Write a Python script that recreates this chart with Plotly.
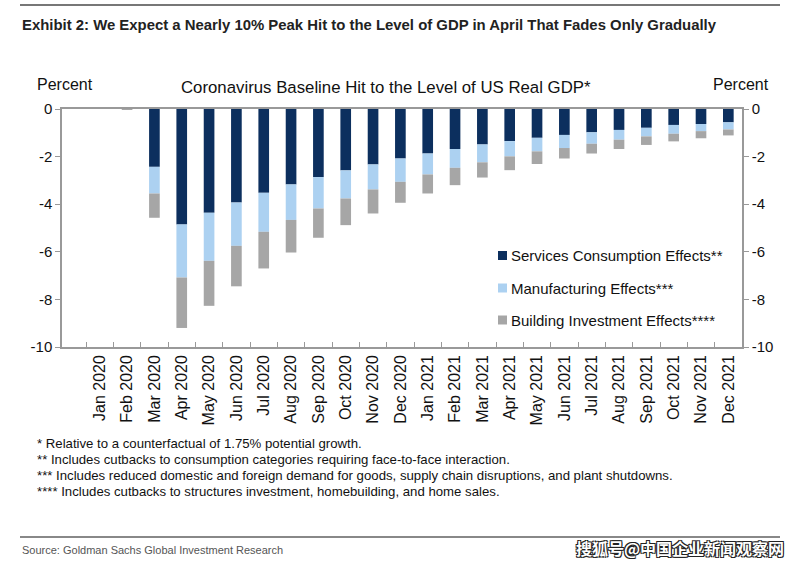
import plotly.graph_objects as go

months = ["Jan 2020", "Feb 2020", "Mar 2020", "Apr 2020", "May 2020", "Jun 2020",
          "Jul 2020", "Aug 2020", "Sep 2020", "Oct 2020", "Nov 2020", "Dec 2020",
          "Jan 2021", "Feb 2021", "Mar 2021", "Apr 2021", "May 2021", "Jun 2021",
          "Jul 2021", "Aug 2021", "Sep 2021", "Oct 2021", "Nov 2021", "Dec 2021"]

services = [0, 0, -2.43, -4.85, -4.36, -3.93, -3.52, -3.17, -2.86, -2.58, -2.33, -2.08,
            -1.87, -1.68, -1.49, -1.35, -1.21, -1.09, -0.98, -0.88, -0.79, -0.67, -0.63, -0.56]
manufacturing = [0, 0, -1.12, -2.23, -2.02, -1.82, -1.64, -1.49, -1.32, -1.18, -1.05, -0.98,
                 -0.88, -0.79, -0.75, -0.64, -0.57, -0.55, -0.48, -0.41, -0.36, -0.37, -0.30, -0.30]
building = [0, -0.02, -1.02, -2.12, -1.89, -1.70, -1.54, -1.37, -1.23, -1.12, -1.01, -0.88,
            -0.80, -0.73, -0.64, -0.58, -0.53, -0.44, -0.41, -0.39, -0.36, -0.32, -0.30, -0.25]

tick_vals = [0, -2, -4, -6, -8, -10]
tick_text = ["0", "-2", "-4", "-6", "-8", "-10"]

names = ["Services Consumption Effects**", "Manufacturing Effects***",
         "Building Investment Effects****"]
colors = ["#0c2f5e", "#acd1f1", "#a6a6a6"]

footnotes = [
    "* Relative to a counterfactual of 1.75% potential growth.",
    "** Includes cutbacks to consumption categories requiring face-to-face interaction.",
    "*** Includes reduced domestic and foreign demand for goods, supply chain disruptions, and plant shutdowns.",
    "**** Includes cutbacks to structures investment, homebuilding, and home sales.",
]

W, H = 800, 565
L, R, T, B = 62, 742, 109, 347


def px(x):
    return (x - L) / (R - L)


def py(y):
    return (B - y) / (B - T)


fig = go.Figure()
for i, (vals, name, col) in enumerate(zip([services, manufacturing, building], names, colors)):
    fig.add_trace(go.Bar(x=months, y=vals, name=name, marker=dict(color=col, line=dict(width=0)),
                         yaxis="y", showlegend=False))
# invisible trace so the right axis renders
fig.add_trace(go.Scatter(x=[months[0]], y=[0], yaxis="y2", mode="markers",
                         marker=dict(opacity=0), showlegend=False, hoverinfo="skip"))

font = "Liberation Sans, Arial, sans-serif"
axis_font = dict(family=font, size=15, color="#111")

fig.update_layout(
    width=W, height=H,
    margin=dict(l=L, r=W - R, t=T, b=H - B),
    paper_bgcolor="white", plot_bgcolor="white",
    barmode="relative", bargap=0.61,
    showlegend=False,
    xaxis=dict(type="category", tickangle=-90, tickfont=dict(family=font, size=16, color="#111"),
               showline=True, linecolor="#999", linewidth=1.5, mirror=True,
               ticks="inside", tickson="boundaries", ticklen=5, tickcolor="#999",
               showgrid=False, zeroline=False),
    yaxis=dict(range=[-10, 0], tickvals=tick_vals, ticktext=tick_text, tickfont=axis_font,
               showline=True, linecolor="#999", linewidth=1.5, ticks="outside", ticklen=5,
               tickcolor="#999", showgrid=False, zeroline=False),
    yaxis2=dict(range=[-10, 0], overlaying="y", side="right", tickvals=tick_vals,
                ticktext=tick_text, tickfont=axis_font, showline=True, linecolor="#999",
                linewidth=1.5, ticks="outside", ticklen=5, tickcolor="#999",
                showgrid=False, zeroline=False),
)

ann = []
ann.append(dict(text="<b>Exhibit 2: We Expect a Nearly 10% Peak Hit to the Level of GDP in April That Fades Only Gradually</b>",
                x=px(20), y=py(25), xanchor="left", yanchor="middle",
                font=dict(family=font, size=14.9, color="#222")))
ann.append(dict(text="Coronavirus Baseline Hit to the Level of US Real GDP*",
                x=px(386), y=py(87), xanchor="center", yanchor="middle",
                font=dict(family=font, size=16.8, color="#111")))
ann.append(dict(text="Percent", x=px(35), y=py(85), xanchor="left", yanchor="middle",
                font=dict(family=font, size=16, color="#111")))
ann.append(dict(text="Percent", x=px(771), y=py(85), xanchor="right", yanchor="middle",
                font=dict(family=font, size=16, color="#111")))
for i, t in enumerate(footnotes):
    ann.append(dict(text=t, x=px(35), y=py(443 + i * 16.3), xanchor="left", yanchor="middle",
                    font=dict(family=font, size=13.2, color="#111")))
ann.append(dict(text="Source: Goldman Sachs Global Investment Research", x=px(20), y=py(550),
                xanchor="left", yanchor="middle",
                font=dict(family=font, size=11, color="#555")))
ann.append(dict(text="<b>搜狐号@中国企业新闻观察网</b>", x=px(786), y=py(548),
                xanchor="right", yanchor="middle",
                font=dict(family="Noto Sans CJK SC, sans-serif", size=16, color="white",
                          shadow="1px 1px 0 #222, -1px -1px 0 #222, 1px -1px 0 #222, -1px 1px 0 #222")))

# legend (manual, to match the compact marker/text spacing of the reference)
legend_rows = [255.5, 288, 320]
for name, col, yy in zip(names, colors, legend_rows):
    ann.append(dict(text=name, x=px(509), y=py(yy), xanchor="left", yanchor="middle",
                    font=dict(family=font, size=15, color="#111")))
    fig.add_shape(type="rect", xref="paper", yref="paper", x0=px(498), x1=px(507),
                  y0=py(yy + 4.5), y1=py(yy - 4.5), fillcolor=col, line=dict(width=0))

for a in ann:
    a.update(xref="paper", yref="paper", showarrow=False)
fig.update_layout(annotations=ann)

fig.add_shape(type="line", xref="paper", yref="paper", x0=px(20), x1=px(780), y0=py(5), y1=py(5),
              line=dict(color="#777", width=2))
fig.add_shape(type="line", xref="paper", yref="paper", x0=px(20), x1=px(780), y0=py(537), y1=py(537),
              line=dict(color="#888", width=2))

fig.write_html("out.html")
